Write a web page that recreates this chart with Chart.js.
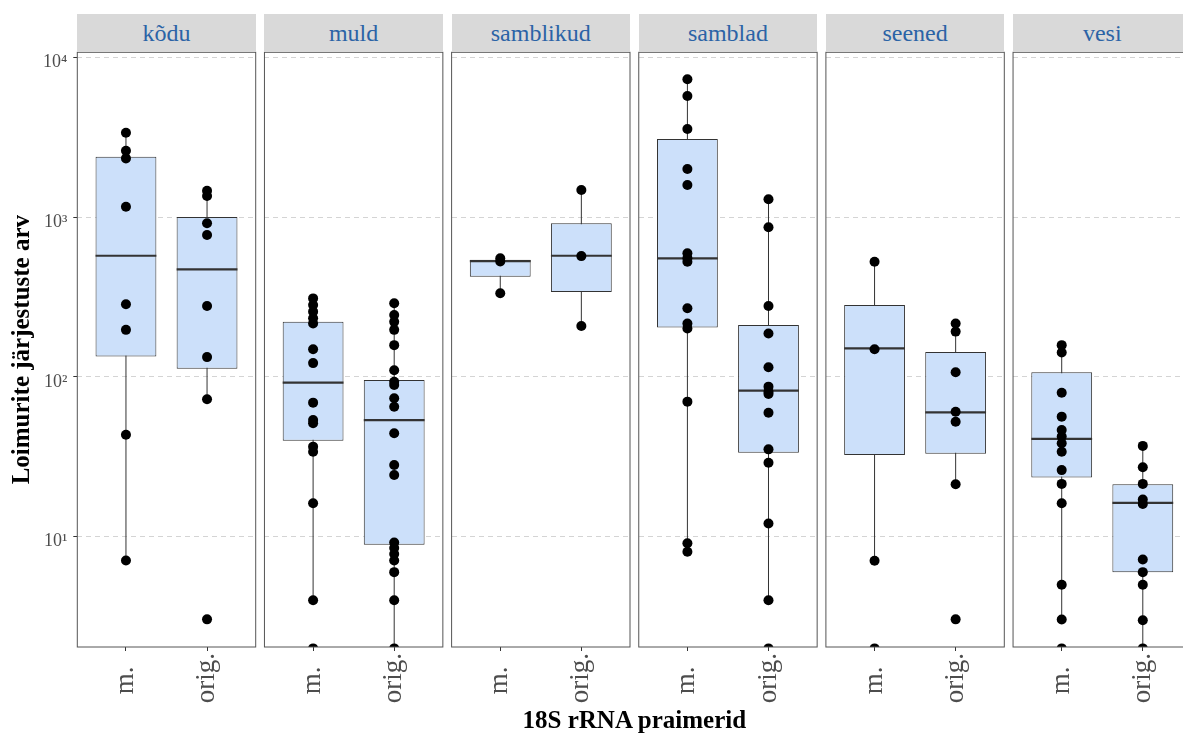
<!DOCTYPE html>
<html>
<head>
<meta charset="utf-8">
<script src="https://cdn.jsdelivr.net/npm/chart.js@4.4.1/dist/chart.umd.min.js"></script>
<style>
html, body { margin: 0; padding: 0; background: #fff; overflow: hidden; }
#fig { position: relative; width: 1183px; height: 733px; overflow: hidden; background: #fff; }
.panel { position: absolute; }
.strip { position: absolute; background: #d9d9d9; color: #2b63a6; font: 24px 'Liberation Serif', serif; display: flex; align-items: center; justify-content: center; }
#xtitle { position: absolute; text-align: center; font: bold 25px 'Liberation Serif', serif; line-height: 28px; color: #000; }
</style>
</head>
<body>
<div id="fig"></div>
<script>
// ---------------- data ----------------
const facets = ['kõdu', 'muld', 'samblikud', 'samblad', 'seened', 'vesi'];
const primers = ['m.', 'orig.'];
const yTickValues = [10, 100, 1000, 10000];
const yTickLabels = ['10¹', '10²', '10³', '10⁴'];
const xTitle = '18S rRNA praimerid';
const yTitle = 'Loimurite järjestuste arv';

// individual observations (points)
const koduM = [3373, 2600, 2330, 1161, 285, 197, 43.5, 7.1];
const koduOrig = [1463, 1355, 915, 773, 278, 133, 72.4, 3.04];
const muldM = [310, 282, 256, 233, 216, 149, 122, 69, 53.7, 51.3, 36.6, 34, 16.2, 4.0, 2];
const muldOrig = [289, 244, 221, 197, 158, 110, 93.3, 89, 73.5, 65.1, 44.4, 28.1, 24.3, 9.2, 8.5, 7.8, 7.1, 6.0, 4.0, 2];
const samblikudM = [552, 528, 334];
const samblikudOrig = [1478, 570, 208];
const sambladM = [7280, 5725, 3560, 2000, 1588, 593, 552, 526, 269, 216, 201, 70, 9.1, 8.06];
const sambladOrig = [1292, 863, 278, 187, 115, 86.9, 80.8, 78.2, 59.7, 35.2, 29.0, 12.1, 4.0, 2];
const seenedM = [526, 149, 7.08, 2];
const seenedOrig = [216, 192, 107, 60.5, 52.4, 21.3, 3.04];
const vesiM = [158, 142, 79.6, 56.4, 46.5, 42.3, 38.4, 34, 26.1, 21.4, 16.2, 5.0, 3.03, 2];
const vesiOrig = [37, 27.2, 21.4, 17.1, 16.0, 7.2, 6.0, 5.0, 3.0, 2];

// box statistics: [lower whisker, q1, median, q3, upper whisker]
const koduBoxM = [7.1, 134, 573, 2388, 3373];
const koduBoxOrig = [72.4, 112.5, 471, 1000, 1463];
const muldBoxM = [4.0, 39.9, 92, 221, 310];
const muldBoxOrig = [2, 8.9, 53.7, 95.6, 289];
const samblikudBoxM = [334, 424, 530, 540, 552];
const samblikudBoxOrig = [208, 340, 573, 915, 1478];
const sambladBoxM = [8.06, 204, 552, 3080, 7280];
const sambladBoxOrig = [4.0, 33.5, 82, 211, 1292];
const seenedBoxM = [7.08, 32.5, 151, 282, 526];
const seenedBoxOrig = [21.3, 33, 60, 143, 216];
const vesiBoxM = [3.03, 23.5, 40.9, 107, 158];
const vesiBoxOrig = [2, 6.0, 16.3, 21.3, 37];

const pointsByFacet = [[koduM, koduOrig], [muldM, muldOrig], [samblikudM, samblikudOrig],
                       [sambladM, sambladOrig], [seenedM, seenedOrig], [vesiM, vesiOrig]];
const boxesByFacet = [[koduBoxM, koduBoxOrig], [muldBoxM, muldBoxOrig], [samblikudBoxM, samblikudBoxOrig],
                      [sambladBoxM, sambladBoxOrig], [seenedBoxM, seenedBoxOrig], [vesiBoxM, vesiBoxOrig]];

// ---------------- layout / style ----------------
const FIG_H = 733;
const PANEL_LEFT0 = 77.3, PANEL_PITCH = 187.15, PANEL_W = 178.4;
const PANEL_TOP = 52.3, PANEL_BOTTOM = 647;
const CANVAS_TOP = 50;
const STRIP_TOP = 14;
const Y_MIN = 2.0408, Y_MAX = 10745;
const X_MIN = 0.4, X_MAX = 2.6;
const BOX_FILL = '#cce0fa', LINE_COL = '#333333';
const BOX_WIDTH = 0.75 * PANEL_W / (X_MAX - X_MIN);

Chart.defaults.font.family = "'Liberation Serif', serif";

const panelBorder = {
  id: 'panelBorder',
  afterDraw(chart) {
    const { ctx, chartArea: a } = chart;
    ctx.save();
    ctx.strokeStyle = '#555555';
    ctx.lineWidth = 1;
    ctx.strokeRect(a.left, a.top, a.right - a.left, a.bottom - a.top);
    ctx.restore();
  }
};

const noPad = (s) => { s.paddingTop = 0; s.paddingBottom = 0; s.paddingLeft = 0; s.paddingRight = 0; };

const fig = document.getElementById('fig');

facets.forEach((facet, i) => {
  const panelLeft = PANEL_LEFT0 + i * PANEL_PITCH;
  const first = i === 0;
  const canvasLeft = first ? 0 : Math.floor(panelLeft) - 1;
  const canvasW = Math.ceil(panelLeft + PANEL_W + 2) - canvasLeft;
  const canvasH = FIG_H - CANVAS_TOP;
  const leftInCanvas = panelLeft - canvasLeft;
  const padRight = canvasW - leftInCanvas - PANEL_W;

  const wrap = document.createElement('div');
  wrap.className = 'panel';
  wrap.style.left = canvasLeft + 'px';
  wrap.style.top = CANVAS_TOP + 'px';
  wrap.style.width = canvasW + 'px';
  wrap.style.height = canvasH + 'px';
  const cv = document.createElement('canvas');
  cv.width = canvasW; cv.height = canvasH;
  cv.style.width = canvasW + 'px'; cv.style.height = canvasH + 'px';
  wrap.appendChild(cv);
  fig.appendChild(wrap);

  const strip = document.createElement('div');
  strip.className = 'strip';
  strip.style.left = panelLeft + 'px';
  strip.style.top = STRIP_TOP + 'px';
  strip.style.width = PANEL_W + 'px';
  strip.style.height = (PANEL_TOP - STRIP_TOP) + 'px';
  strip.textContent = facet;
  fig.appendChild(strip);

  const pts = pointsByFacet[i];
  const bx = boxesByFacet[i];
  const pointData = [];
  pts.forEach((arr, k) => arr.forEach(v => pointData.push({ x: k + 1, y: v })));

  new Chart(cv, {
    type: 'bar',
    data: {
      datasets: [
        { // whiskers
          type: 'bar', order: 4, grouped: false, clip: 0,
          data: bx.map((b, k) => ({ x: k + 1, y: [b[0], b[4]] })),
          backgroundColor: LINE_COL, borderWidth: 0, barThickness: 1, inflateAmount: 0
        },
        { // boxes
          type: 'bar', order: 3, grouped: false, clip: 0,
          data: bx.map((b, k) => ({ x: k + 1, y: [b[1], b[3]] })),
          backgroundColor: BOX_FILL, borderColor: LINE_COL, borderWidth: 1,
          borderSkipped: false, barThickness: BOX_WIDTH, inflateAmount: 0
        },
        { // medians
          type: 'scatter', order: 2, clip: 0,
          data: bx.map((b, k) => ({ x: k + 1, y: b[2] })),
          pointStyle: 'line', pointRadius: BOX_WIDTH / 2, pointBorderWidth: 2.2,
          pointBorderColor: LINE_COL, pointBackgroundColor: LINE_COL
        },
        { // observations
          type: 'scatter', order: 1, clip: 0,
          data: pointData,
          pointRadius: 5, pointBorderWidth: 0, pointBackgroundColor: '#000000'
        }
      ]
    },
    options: {
      responsive: false,
      animation: false,
      events: [],
      layout: { autoPadding: false, padding: { left: first ? 0 : leftInCanvas, right: padRight, top: PANEL_TOP - CANVAS_TOP, bottom: 0 } },
      plugins: { legend: { display: false }, tooltip: { enabled: false }, title: { display: false } },
      scales: {
        x: {
          type: 'linear', bounds: 'data', min: X_MIN, max: X_MAX, offset: false,
          afterBuildTicks: (s) => { s.ticks = primers.map((p, k) => ({ value: k + 1 })); },
          afterFit: (s) => { s.height = FIG_H - PANEL_BOTTOM; noPad(s); },
          grid: { display: true, offset: false, drawOnChartArea: false, drawTicks: true, tickLength: 4, tickColor: LINE_COL, color: LINE_COL },
          border: { display: false },
          ticks: {
            autoSkip: false, minRotation: 90, maxRotation: 90, padding: 2,
            font: { size: 27 }, color: '#4d4d4d',
            callback: (v) => { const s = primers[Math.round(v) - 1] || ''; return s.length < 4 ? s + '  ' : s; }
          }
        },
        y: {
          type: 'logarithmic', bounds: 'data', min: Y_MIN, max: Y_MAX,
          afterBuildTicks: (s) => { s.ticks = yTickValues.map(v => ({ value: v })); },
          afterFit: (s) => { s.width = first ? leftInCanvas : 0; noPad(s); },
          grid: { display: true, color: '#d4d4d4', lineWidth: 1, drawTicks: first, tickLength: 4, tickColor: LINE_COL, tickBorderDash: [] },
          border: { display: false, dash: [5, 4] },
          title: first ? { display: true, text: yTitle, color: '#000', font: { size: 25, weight: 'bold' }, padding: { top: 8, bottom: 0 } } : { display: false },
          ticks: {
            display: first, padding: 6, labelOffset: 5,
            font: { size: 18 }, color: '#4d4d4d',
            callback: (v) => { const k = yTickValues.indexOf(v); return k >= 0 ? yTickLabels[k] : ''; }
          }
        }
      }
    },
    plugins: [panelBorder]
  });
});

const xt = document.createElement('div');
xt.id = 'xtitle';
const plotCenter = (PANEL_LEFT0 + PANEL_LEFT0 + 5 * PANEL_PITCH + PANEL_W) / 2;
xt.style.left = (plotCenter - 300) + 'px';
xt.style.width = '600px';
xt.style.top = '705.6px';
xt.textContent = xTitle;
fig.appendChild(xt);
</script>
</body>
</html>
